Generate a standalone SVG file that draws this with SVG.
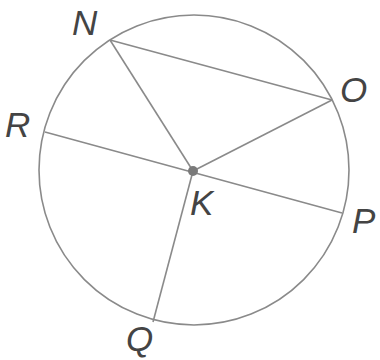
<svg xmlns="http://www.w3.org/2000/svg" width="380" height="360" viewBox="0 0 380 360">
<style>
.ln{stroke:#8a8a8a;stroke-width:1.6;fill:none}
.lb{font-family:"Liberation Sans","DejaVu Sans",sans-serif;font-style:italic;font-size:35px;fill:#444}
</style>
<rect width="380" height="360" fill="#fff"/>
<g id="circle"><circle class="ln" cx="194" cy="170" r="155"/></g>
<g id="connectors">
<line class="ln" x1="110" y1="40" x2="332" y2="100"/>
<line class="ln" x1="110" y1="40" x2="193" y2="171"/>
<line class="ln" x1="332" y1="100" x2="193" y2="171"/>
<line class="ln" x1="45" y1="132" x2="342" y2="213"/>
<line class="ln" x1="193" y1="171" x2="153" y2="322"/>
</g>
<g id="K"><circle cx="193" cy="171" r="5" fill="#7a7a7a"/><text class="lb" x="190" y="215">K</text></g>
<g id="N"><text class="lb" x="72" y="35">N</text></g>
<g id="O"><text class="lb" x="340" y="102">O</text></g>
<g id="R"><text class="lb" x="5" y="137">R</text></g>
<g id="P"><text class="lb" x="352" y="233">P</text></g>
<g id="Q"><text class="lb" x="126" y="351">Q</text></g>
</svg>
